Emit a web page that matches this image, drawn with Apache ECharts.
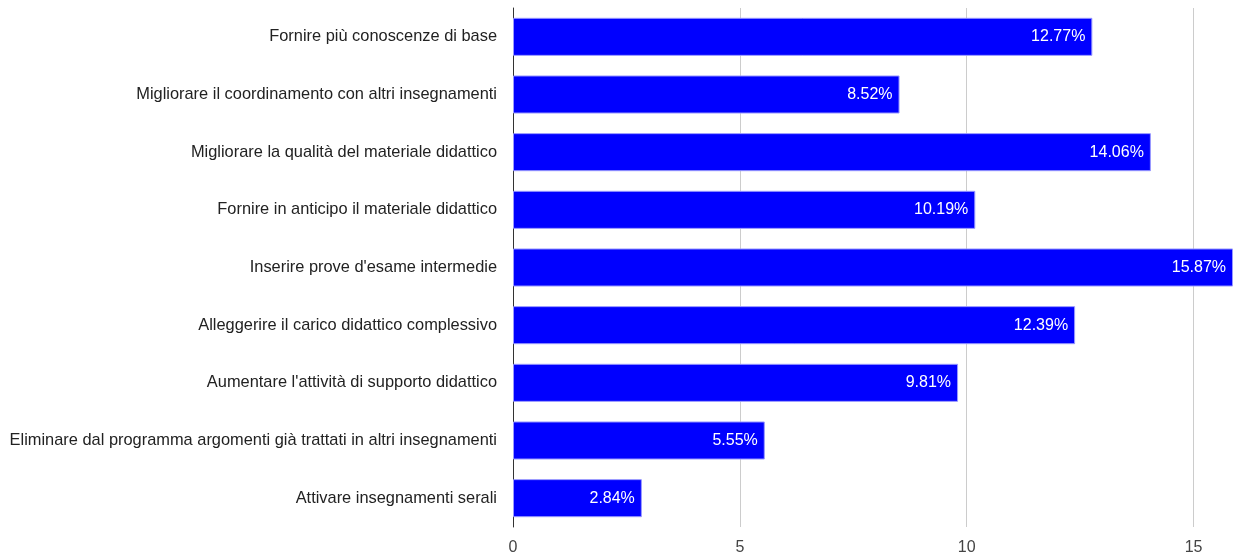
<!DOCTYPE html>
<html>
<head>
<meta charset="utf-8">
<script src="https://cdn.jsdelivr.net/npm/echarts@6/dist/echarts.min.js"></script>
<style>
html,body{margin:0;padding:0;background:#fff;}
#chart{width:1236px;height:558px;}
</style>
</head>
<body>
<div id="chart"></div>
<script>
// Suggerimenti, dall'alto verso il basso
const categories = [
  "Fornire più conoscenze di base",
  "Migliorare il coordinamento con altri insegnamenti",
  "Migliorare la qualità del materiale didattico",
  "Fornire in anticipo il materiale didattico",
  "Inserire prove d'esame intermedie",
  "Alleggerire il carico didattico complessivo",
  "Aumentare l'attività di supporto didattico",
  "Eliminare dal programma argomenti già trattati in altri insegnamenti",
  "Attivare insegnamenti serali"
];
const percentages = [12.77, 8.52, 14.06, 10.19, 15.87, 12.39, 9.81, 5.55, 2.84];
const xTicks = [0, 5, 10, 15];

const chart = echarts.init(document.getElementById('chart'));
const font = 'Liberation Sans, Arial, sans-serif';
chart.setOption({
  animation: false,
  grid: { left: 513, right: 3, top: 8, bottom: 31, containLabel: false },
  xAxis: {
    type: 'value',
    min: 0,
    max: Math.max(...percentages),
    interval: 5,
    axisLine: { show: false },
    axisTick: { show: false },
    splitLine: { show: true, showMinLine: false, showMaxLine: false, lineStyle: { color: '#cccccc', width: 1 } },
    axisLabel: {
      color: '#444', fontFamily: font, fontSize: 16, margin: 13,
      showMaxLabel: false,
      formatter: v => xTicks.includes(v) ? String(v) : ''
    }
  },
  yAxis: {
    type: 'category',
    data: categories,
    inverse: true,
    axisLine: { show: true, onZero: false, lineStyle: { color: '#333', width: 1 } },
    axisTick: { show: false },
    axisLabel: { color: '#222', fontFamily: font, fontSize: 16.4, margin: 16 }
  },
  series: [{
    type: 'bar',
    data: percentages,
    barCategoryGap: '34%',
    itemStyle: { color: '#0000ff', borderColor: '#9999ff', borderWidth: 1 },
    label: {
      show: true,
      position: 'insideRight',
      distance: 7,
      color: '#ffffff',
      fontFamily: font,
      fontSize: 16,
      formatter: p => p.value.toFixed(2) + '%'
    }
  }]
});
</script>
</body>
</html>
